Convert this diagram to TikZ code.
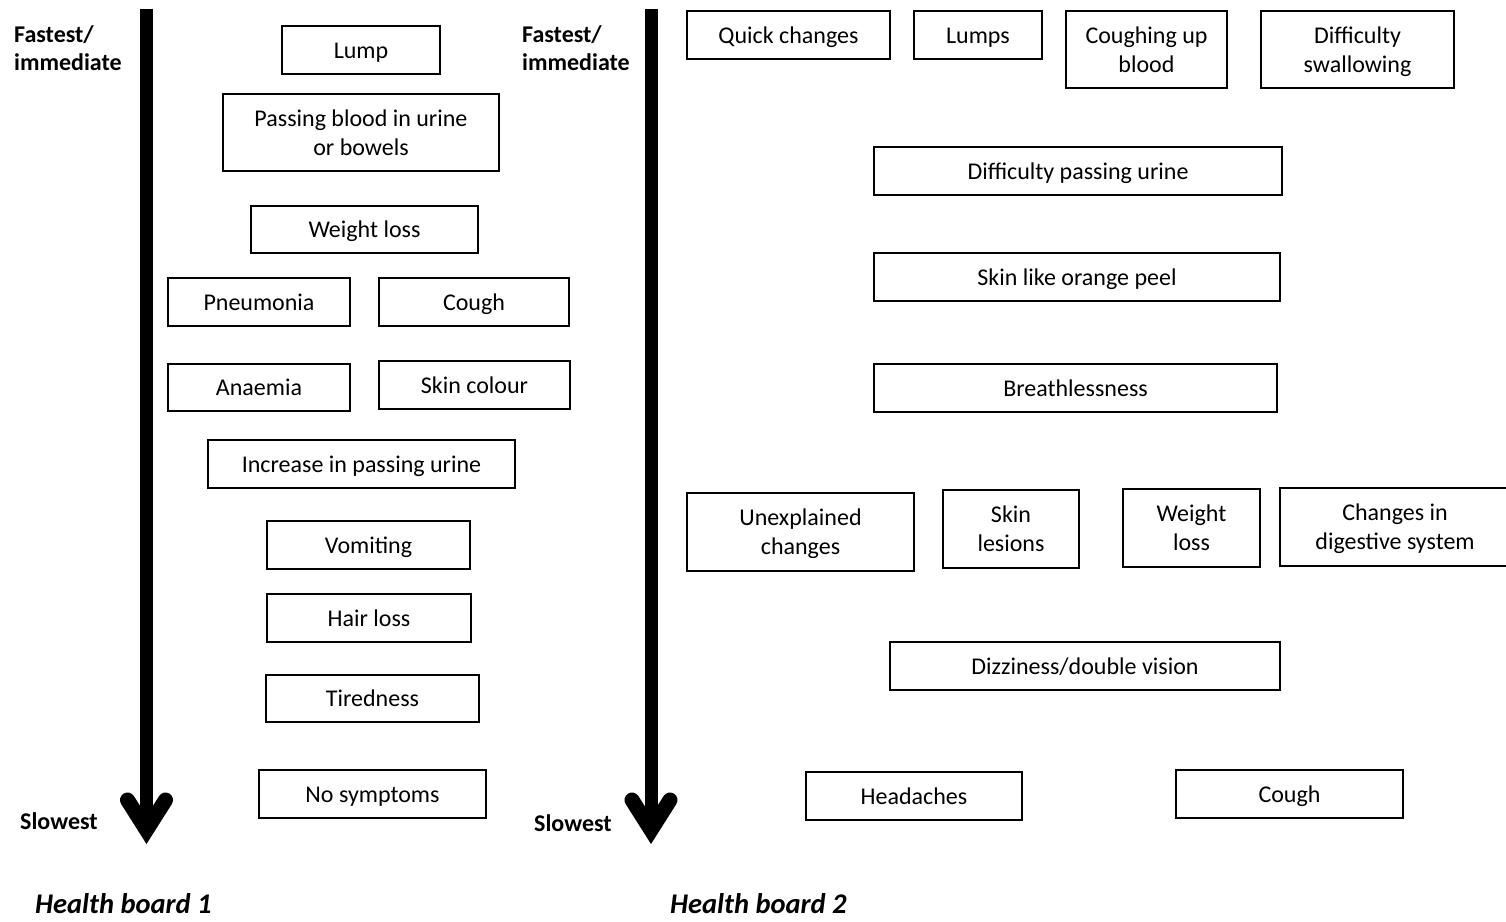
\documentclass[tikz,border=0pt]{standalone}
\usepackage{fontspec}
\setmainfont{Carlito}
\begin{document}
\begin{tikzpicture}[x=1pt,y=-1pt,
  box/.style={draw, line width=1.3pt, inner sep=0pt, align=center,
    font=\fontsize{24}{29}\selectfont, text height=16pt, text depth=0pt},
  twoline/.style={text height=45pt, text depth=0pt},
  lbl/.style={inner sep=0pt, align=left, font=\fontsize{24}{28}\selectfont\bfseries},
  boardtitle/.style={inner sep=0pt, anchor=west, font=\fontsize{28.5}{32}\selectfont\bfseries\itshape},
  shaft/.style={line width=13pt},
  head/.style={line width=15pt, line cap=round, line join=miter}]
\useasboundingbox (0,0) rectangle (1506,921);

% time axes
\coordinate (a1top) at (146.5,9);
\coordinate (a1end) at (146.5,830);
\coordinate (a1l) at (127.5,800);
\coordinate (a1r) at (165.5,800);
\draw[shaft] (a1top) -- (a1end);
\draw[head] (a1l) -- (a1end) -- (a1r);

\coordinate (a2top) at (651,9);
\coordinate (a2end) at (651,830);
\coordinate (a2l) at (632,800);
\coordinate (a2r) at (670,800);
\draw[shaft] (a2top) -- (a2end);
\draw[head] (a2l) -- (a2end) -- (a2r);

% axis labels
\node[lbl, anchor=west] (f1) at (14,48) {Fastest/\\immediate};
\node[lbl, anchor=west] (s1) at (20,821) {Slowest};
\node[lbl, anchor=west] (f2) at (522,48) {Fastest/\\immediate};
\node[lbl, anchor=west] (s2) at (534,823) {Slowest};

\node[boardtitle] (hb1) at (35,904) {Health board 1};
\node[boardtitle] (hb2) at (670,904) {Health board 2};

% health board 1
\node[box, minimum width=158pt, minimum height=48pt] (lump) at (361,50) {Lump};
\node[box, twoline, minimum width=276pt, minimum height=77pt] (blood) at (361,132.5) {Passing blood in urine\\or bowels};
\node[box, minimum width=227pt, minimum height=47pt] (wl1) at (364.5,229.5) {Weight loss};
\node[box, minimum width=182pt, minimum height=48pt] (pneu) at (259,302) {Pneumonia};
\node[box, minimum width=190pt, minimum height=48pt] (cough1) at (474,302) {Cough};
\node[box, minimum width=182pt, minimum height=47pt] (anaem) at (259,387.5) {Anaemia};
\node[box, minimum width=191pt, minimum height=48pt] (skin) at (474.5,385) {Skin colour};
\node[box, minimum width=307pt, minimum height=48pt] (urine) at (361.5,464) {Increase in passing urine};
\node[box, minimum width=203pt, minimum height=48pt] (vomit) at (368.5,545) {Vomiting};
\node[box, minimum width=204pt, minimum height=48pt] (hair) at (369,618) {Hair loss};
\node[box, minimum width=213pt, minimum height=47pt] (tired) at (372.5,698.5) {Tiredness};
\node[box, minimum width=227pt, minimum height=48pt] (nosym) at (372.5,794) {No symptoms};

% health board 2
\node[box, minimum width=203pt, minimum height=48pt] (quick) at (788.5,35) {Quick changes};
\node[box, minimum width=128pt, minimum height=48pt] (lumps) at (978,35) {Lumps};
\node[box, twoline, minimum width=161pt, minimum height=77pt] (cblood) at (1146.5,49.5) {Coughing up\\blood};
\node[box, twoline, minimum width=193pt, minimum height=77pt] (swallow) at (1357.5,49.5) {Difficulty\\swallowing};
\node[box, minimum width=408pt, minimum height=48pt] (dpu) at (1078,171) {Difficulty passing urine};
\node[box, minimum width=406pt, minimum height=48pt] (orange) at (1077,277) {Skin like orange peel};
\node[box, minimum width=403pt, minimum height=48pt] (breath) at (1075.5,388) {Breathlessness};
\node[box, twoline, minimum width=227pt, minimum height=78pt] (unexp) at (800.5,532) {Unexplained\\changes};
\node[box, twoline, minimum width=136pt, minimum height=78pt] (lesion) at (1011,529) {Skin\\lesions};
\node[box, twoline, minimum width=137pt, minimum height=78pt] (wl2) at (1191.5,528) {Weight\\loss};
\node[box, twoline, minimum width=230pt, minimum height=78pt] (digest) at (1395,527) {Changes in\\digestive system};
\node[box, minimum width=390pt, minimum height=48pt] (dizzy) at (1085,666) {Dizziness/double vision};
\node[box, minimum width=216pt, minimum height=48pt] (head) at (914,796) {Headaches};
\node[box, minimum width=227pt, minimum height=48pt] (cough2) at (1289.5,794) {Cough};
\end{tikzpicture}
\end{document}
